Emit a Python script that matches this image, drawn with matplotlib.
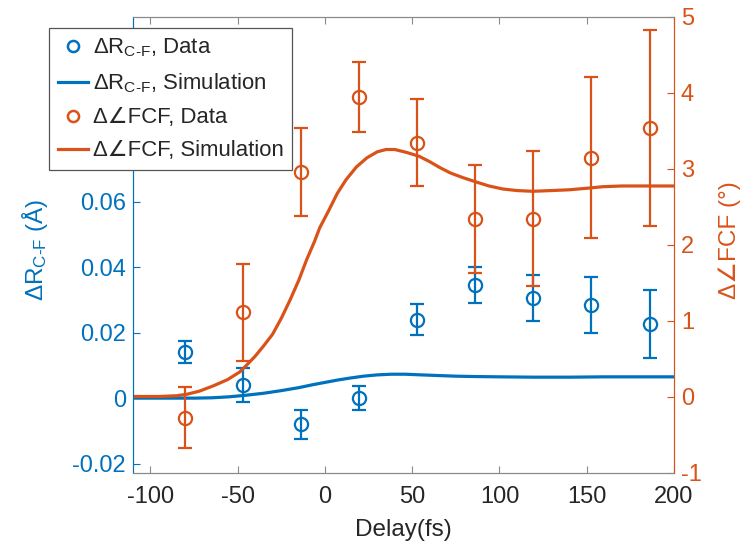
import matplotlib
matplotlib.use("Agg")
import matplotlib.pyplot as plt
from matplotlib.lines import Line2D

plt.rcParams['font.family'] = ['Liberation Sans', 'DejaVu Sans']
plt.rcParams['mathtext.fontset'] = 'custom'
plt.rcParams['mathtext.rm'] = 'Liberation Sans'
plt.rcParams['mathtext.it'] = 'Liberation Sans:italic'

BLUE = '#0072BD'
ORANGE = '#D95319'
DARK = '#262626'

# ---- data ----
delay = [-80, -47, -14, 19.5, 53, 86, 119, 152.5, 186]
dR_data = [0.014, 0.004, -0.008, 0.0, 0.024, 0.0345, 0.0305, 0.0284, 0.0226]
dR_err = [0.0034, 0.0053, 0.0044, 0.0037, 0.0046, 0.0056, 0.0070, 0.0086, 0.0104]
dA_data = [-0.28, 1.11, 2.95, 3.94, 3.34, 2.34, 2.34, 3.14, 3.53]
dA_err = [0.40, 0.64, 0.58, 0.46, 0.57, 0.71, 0.89, 1.06, 1.29]

simA_t = [-110, -95, -85, -79, -72, -64, -56, -49, -45, -40, -35, -30, -25, -20,
          -15, -10.5, -6, -3, 2, 7, 12, 18, 24, 30, 35, 40, 47, 54, 60, 66, 72,
          79, 87, 94, 102, 110, 119, 130, 140, 150, 159, 170, 185, 200]
simA = [0.0, 0.0, 0.01, 0.03, 0.07, 0.14, 0.22, 0.32, 0.41, 0.53, 0.67, 0.82,
        1.03, 1.27, 1.53, 1.80, 2.04, 2.22, 2.44, 2.67, 2.85, 3.02, 3.14, 3.22,
        3.25, 3.25, 3.21, 3.16, 3.09, 3.01, 2.94, 2.88, 2.82, 2.77, 2.73, 2.71,
        2.70, 2.71, 2.72, 2.74, 2.76, 2.77, 2.77, 2.77]
simR_t = [-110, -90, -75, -65, -55, -45, -35, -25, -15, -7, 0, 7, 14, 22, 30,
          38, 46, 55, 65, 75, 85, 100, 120, 140, 160, 180, 200]
simR = [0.0, 0.0, 0.0, 0.0001, 0.0004, 0.0009, 0.0015, 0.0023, 0.0032, 0.0041,
        0.0048, 0.0055, 0.0061, 0.0067, 0.0071, 0.0073, 0.0073, 0.0071, 0.0069,
        0.0067, 0.0066, 0.0065, 0.0064, 0.0064, 0.0065, 0.0065, 0.0065]

x_ticks = [-100, -50, 0, 50, 100, 150, 200]
left_ticks = [-0.02, 0, 0.02, 0.04, 0.06, 0.08, 0.1]
left_labels = ['-0.02', '0', '0.02', '0.04', '0.06', '0.08', '0.1']
right_ticks = [-1, 0, 1, 2, 3, 4, 5]
right_labels = ['-1', '0', '1', '2', '3', '4', '5']

HY = '\u2010'
DR = r'$\Delta$R$_{\mathrm{C' + HY + r'F}}$'

fig = plt.figure(figsize=(7.43, 5.48), dpi=100)
ax = fig.add_axes([133/743, 75.5/548, 541/743, 456/548])
ax2 = ax.twinx()

eb = dict(fmt='o', mfc='none', ms=9.5, mew=1.6, elinewidth=1.6, capsize=5,
          capthick=1.6)
ax.errorbar(delay, dR_data, yerr=dR_err, color=BLUE, **eb)
ax.plot(simR_t, simR, color=BLUE, lw=2.3)

ax2.errorbar(delay, dA_data, yerr=dA_err, color=ORANGE, **eb)
ax2.plot(simA_t, simA, color=ORANGE, lw=2.3)

ax.set_xlim(-110, 200)
ax.set_ylim(-0.0227, 0.1165)
ax2.set_ylim(-1, 5)

ax.set_xticks(x_ticks)
ax.set_xticklabels([str(v) for v in x_ticks])
ax.set_yticks(left_ticks)
ax.set_yticklabels(left_labels)
ax2.set_yticks(right_ticks)
ax2.set_yticklabels(right_labels)

fs = 17
ax.tick_params(axis='x', direction='in', top=True, length=5, width=0.8,
               colors=DARK, labelsize=fs, pad=10)
ax.tick_params(axis='x', colors='#8a8a8a', labelcolor=DARK)
ax.tick_params(axis='y', direction='in', length=5, width=0.8,
               colors=BLUE, labelsize=fs, pad=5)
ax2.tick_params(axis='y', direction='in', length=5, width=0.8,
                colors=ORANGE, labelsize=fs, pad=5)

for a in (ax, ax2):
    a.spines['top'].set_color('#8a8a8a')
    a.spines['bottom'].set_color('#8a8a8a')
    a.spines['left'].set_color(BLUE)
    a.spines['right'].set_color(ORANGE)
    for s in a.spines.values():
        s.set_linewidth(0.8)

ax.set_xlabel('Delay(fs)', fontsize=17.5, color=DARK)
ax.xaxis.set_label_coords(0.5, -0.102)
ax.set_ylabel(DR + ' (Å)', fontsize=17.5, color=BLUE)
ax.yaxis.set_label_coords(-0.153, 0.488)
ax2.set_ylabel('Δ∠FCF (°)', fontsize=17.5, color=ORANGE, rotation=90)
ax2.yaxis.set_label_coords(1.083, 0.51)

handles = [
    Line2D([], [], ls='none', marker='o', color=BLUE, mfc='none', ms=8, mew=1.8),
    Line2D([], [], color=BLUE, lw=2.3),
    Line2D([], [], ls='none', marker='o', color=ORANGE, mfc='none', ms=8, mew=1.8),
    Line2D([], [], color=ORANGE, lw=2.3),
]
labels = [
    DR + ', Data',
    DR + ', Simulation',
    'Δ∠FCF, Data',
    'Δ∠FCF, Simulation',
]
leg = fig.legend(handles, labels, loc='upper left',
                 bbox_to_anchor=(49/743, 1 - 28/548), fontsize=15.9,
                 frameon=True, fancybox=False, framealpha=1,
                 edgecolor='#555555', handlelength=1.35, handletextpad=0.22,
                 labelspacing=0.55, borderpad=0.4, borderaxespad=0)
leg.get_frame().set_linewidth(0.9)
for t in leg.get_texts():
    t.set_color(DARK)

fig.savefig('out.png', dpi=100)
